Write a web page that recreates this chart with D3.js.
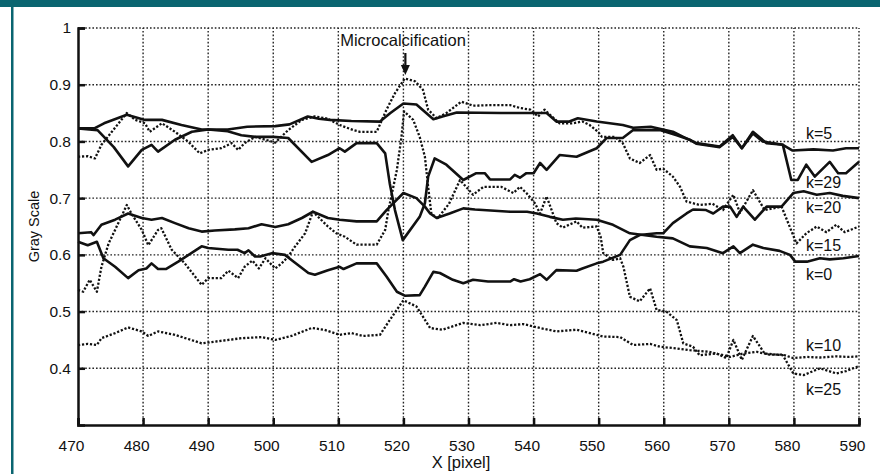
<!DOCTYPE html>
<html>
<head>
<meta charset="utf-8">
<script src="https://cdn.jsdelivr.net/npm/d3@7"></script>
<style>
  body { margin: 0; background: #fff; }
  svg { display: block; }
  text { font-family: "Liberation Sans", Arial, Helvetica, sans-serif; fill: #111; }
</style>
</head>
<body>
<svg id="chart" width="880" height="474"></svg>
<script>
// tick values
const xTicks = [470, 480, 490, 500, 510, 520, 530, 540, 550, 560, 570, 580, 590];
const yTicks = [0.4, 0.5, 0.6, 0.7, 0.8, 0.9, 1];

// profiles: [x pixel, gray]
const k5 = [[470,0.823],[472.5,0.823],[474,0.832],[477.5,0.847],[480.3,0.838],[482.9,0.838],[485.9,0.829],[489,0.821],[493,0.821],[496,0.826],[500.3,0.827],[502.5,0.83],[505.3,0.844],[507,0.84],[508.7,0.838],[512,0.836],[516.4,0.835],[518,0.85],[520,0.867],[522,0.865],[524.6,0.839],[526,0.844],[528.2,0.851],[535,0.85],[542,0.85],[543.5,0.835],[545.5,0.835],[546.8,0.841],[549.7,0.835],[553.7,0.829],[555.3,0.824],[558,0.826],[561.4,0.817],[563,0.808],[565,0.797],[568.6,0.791],[570.6,0.811],[572,0.788],[573.7,0.817],[575.8,0.797],[578.3,0.794],[579.8,0.784],[583,0.786],[586,0.784],[588,0.788],[590,0.788]];
const k29 = [[470,0.823],[473,0.82],[475.5,0.79],[477.7,0.756],[479.8,0.785],[481.3,0.794],[482.3,0.782],[484.9,0.803],[487.5,0.817],[490,0.821],[493,0.818],[495.1,0.811],[497.2,0.808],[500,0.808],[502.3,0.806],[505.9,0.764],[508.4,0.776],[510.2,0.788],[511,0.782],[512.8,0.797],[515.9,0.797],[517.2,0.779],[517.9,0.726],[518.7,0.679],[519.9,0.626],[522.5,0.667],[523.3,0.691],[523.8,0.738],[524.8,0.77],[526.6,0.759],[529.2,0.732],[531.2,0.744],[532.5,0.744],[533.3,0.733],[536.4,0.733],[537.1,0.741],[537.9,0.736],[538.9,0.744],[540,0.744],[541,0.762],[542,0.75],[544,0.776],[546.6,0.773],[549.7,0.788],[551.2,0.806],[553.7,0.806],[555.3,0.82],[559.4,0.82],[562,0.811],[564,0.803],[565,0.796],[568.6,0.79],[570.6,0.808],[572,0.788],[573.7,0.814],[575.2,0.8],[578.3,0.794],[579.6,0.732],[580.6,0.732],[581.9,0.759],[583.2,0.738],[585.5,0.764],[586.8,0.744],[588,0.744],[590,0.764]];
const k20 = [[470,0.623],[471.5,0.617],[472.9,0.623],[473.9,0.594],[475.7,0.579],[477.7,0.559],[479.3,0.573],[480.5,0.576],[481.3,0.585],[482.3,0.575],[483.5,0.575],[485.4,0.588],[489,0.615],[490,0.612],[493.1,0.609],[494.5,0.609],[495.6,0.603],[496.2,0.608],[497.2,0.597],[498,0.597],[499.8,0.603],[501.8,0.6],[502.8,0.591],[505.4,0.568],[506.4,0.565],[508.4,0.573],[510.2,0.579],[510.8,0.575],[512.8,0.585],[515.9,0.585],[517.4,0.562],[519,0.535],[520.2,0.528],[522.5,0.529],[523.3,0.544],[524.6,0.57],[525.6,0.568],[527.6,0.556],[529.2,0.55],[530.7,0.556],[533,0.553],[536.4,0.553],[537,0.557],[538,0.553],[539.4,0.557],[541,0.566],[542,0.556],[543.5,0.573],[546.6,0.572],[547.5,0.576],[549.7,0.585],[550.7,0.588],[553.3,0.6],[554.8,0.626],[556.3,0.635],[558.9,0.638],[559.9,0.638],[561.4,0.656],[563.5,0.673],[564.5,0.68],[566.5,0.679],[567.6,0.673],[569.1,0.685],[570.2,0.685],[571.2,0.667],[572.2,0.685],[574,0.662],[575.8,0.685],[578.1,0.685],[579.9,0.709],[581.5,0.712],[583.5,0.706],[585.5,0.709],[587.5,0.704],[590,0.7]];
const k0 = [[470,0.638],[472,0.64],[472.4,0.635],[473.6,0.653],[475.7,0.662],[477.7,0.673],[479.8,0.665],[481.3,0.662],[482.9,0.665],[484.9,0.656],[487,0.647],[489,0.641],[491,0.643],[494.1,0.645],[496.2,0.647],[498.2,0.654],[500.3,0.649],[502.3,0.654],[504.4,0.665],[506.1,0.676],[508.4,0.665],[510.2,0.662],[512.8,0.659],[515.9,0.659],[517.4,0.679],[520,0.709],[522,0.7],[523.3,0.685],[524.1,0.673],[525.1,0.665],[527.1,0.673],[529.2,0.682],[531,0.68],[536.4,0.676],[539,0.676],[540.5,0.673],[542.5,0.667],[544.5,0.662],[546.5,0.664],[549.7,0.662],[552.2,0.653],[554.8,0.638],[558.9,0.632],[561.4,0.629],[564,0.615],[566.6,0.612],[569.1,0.603],[570.7,0.615],[571.7,0.603],[573.7,0.618],[575.3,0.612],[577.8,0.607],[579.4,0.6],[580.2,0.588],[582,0.588],[584,0.594],[585.5,0.592],[587.6,0.594],[590,0.598]];
const k15 = [[470,0.773],[471.5,0.774],[472.6,0.77],[473.6,0.794],[475.2,0.817],[477.5,0.85],[478.8,0.838],[480.3,0.832],[481,0.817],[482.9,0.832],[484.9,0.817],[486.9,0.8],[488.7,0.779],[490,0.785],[492,0.788],[493.6,0.797],[494.6,0.785],[495.6,0.797],[497.2,0.808],[498.8,0.803],[500.3,0.798],[502.3,0.82],[504.4,0.838],[506.4,0.844],[508.4,0.84],[510.2,0.829],[512.3,0.82],[513.3,0.817],[515.9,0.817],[517.4,0.856],[518.7,0.885],[520.2,0.911],[521.8,0.906],[523,0.891],[523.8,0.856],[525.1,0.841],[526.6,0.85],[528.9,0.87],[530.7,0.863],[533.3,0.864],[536.4,0.864],[537.9,0.859],[539.5,0.856],[540.7,0.844],[541.7,0.856],[542.8,0.844],[544,0.832],[546,0.832],[547.5,0.835],[548.6,0.829],[549.9,0.817],[550.5,0.808],[552.5,0.808],[553.7,0.797],[554.8,0.77],[556.3,0.762],[557.9,0.776],[558.9,0.75],[559.9,0.752],[561.4,0.738],[562.5,0.72],[563.5,0.694],[565.5,0.688],[567.5,0.69],[569.1,0.679],[570.7,0.706],[571.7,0.674],[573.7,0.714],[575.5,0.679],[578.1,0.685],[580.4,0.62],[581.9,0.638],[583.5,0.65],[585,0.64],[586.5,0.653],[587.8,0.64],[590,0.65]];
const k10 = [[470,0.441],[471.5,0.443],[472.9,0.441],[473.6,0.453],[475.7,0.462],[477.7,0.472],[479.8,0.465],[480.8,0.457],[482.3,0.465],[484.9,0.459],[489,0.444],[491,0.447],[495.1,0.453],[498.2,0.455],[500.3,0.45],[502.8,0.457],[505.9,0.471],[507.8,0.468],[510.2,0.459],[512,0.462],[513.8,0.457],[516.4,0.459],[517.9,0.485],[520,0.52],[522,0.509],[523,0.491],[524.1,0.471],[526,0.468],[529.2,0.48],[531.8,0.476],[534.3,0.48],[536.4,0.476],[538.4,0.478],[541,0.471],[543.5,0.465],[546.6,0.468],[549.7,0.459],[550.7,0.456],[553.3,0.455],[555.3,0.441],[557.9,0.443],[559.4,0.438],[562,0.435],[564,0.432],[567,0.429],[570.2,0.42],[572.2,0.426],[574.3,0.429],[576.3,0.424],[578.3,0.424],[579.9,0.418],[582,0.42],[584,0.419],[586.5,0.421],[588.5,0.42],[590,0.421]];
const k25 = [[470,0.538],[470.8,0.535],[471.8,0.556],[472.9,0.535],[473.6,0.579],[474.7,0.62],[475.7,0.644],[477.5,0.688],[478.2,0.673],[479.8,0.644],[480.8,0.617],[482.3,0.644],[482.8,0.647],[484.4,0.609],[486.4,0.585],[489,0.547],[490,0.559],[492,0.559],[493.1,0.572],[494.6,0.559],[495.6,0.579],[496.8,0.59],[497.8,0.576],[498.8,0.594],[500.3,0.576],[501.3,0.585],[502.3,0.597],[503.3,0.614],[504.9,0.638],[506.1,0.676],[508.4,0.65],[509.7,0.638],[511,0.632],[512.8,0.618],[515.9,0.618],[517.2,0.644],[517.7,0.679],[519,0.75],[519.7,0.808],[520.1,0.853],[521.5,0.838],[522.5,0.808],[523.3,0.773],[523.8,0.72],[524.3,0.672],[525.3,0.665],[527,0.69],[528.7,0.732],[530.7,0.706],[532.3,0.72],[535,0.72],[536.9,0.709],[537.9,0.72],[538.9,0.709],[540.2,0.691],[541,0.673],[542,0.703],[543.5,0.656],[544.5,0.648],[546.6,0.659],[547.5,0.648],[549.7,0.65],[550.3,0.632],[550.7,0.603],[552.2,0.591],[553.3,0.594],[553.8,0.579],[554.8,0.526],[556.3,0.518],[557.9,0.541],[558.9,0.503],[560.4,0.5],[562,0.485],[563,0.444],[564.5,0.438],[565.5,0.423],[568.1,0.426],[569.6,0.418],[570.7,0.45],[572,0.415],[573.7,0.457],[575.5,0.426],[578.3,0.423],[579.9,0.391],[581.5,0.388],[584,0.4],[586.5,0.391],[588,0.395],[590,0.404]];

const seriesNames = ["k=5", "k=29", "k=20", "k=15", "k=0", "k=10", "k=25"];
const seriesData = [k5, k29, k20, k15, k0, k10, k25];
const seriesDotted = [false, false, false, true, false, true, true];
// gray value at the baseline of each label
const labelValues = [0.805, 0.718, 0.674, 0.606, 0.556, 0.430, 0.353];

const svg = d3.select("#chart");
const W = 880, H = 474;
const margin = { top: 28, right: 21, bottom: 49, left: 78 };

// teal frame
svg.append("rect").attr("x", 0).attr("y", 0).attr("width", W).attr("height", 7).attr("fill", "#0a6570");
svg.append("rect").attr("x", 11).attr("y", 0).attr("width", 2.5).attr("height", H).attr("fill", "#0a6570");

const x = d3.scaleLinear().domain([470, 590]).range([margin.left, W - margin.right]);
const y = d3.scaleLinear().domain([0.3, 1]).range([H - margin.bottom, margin.top]);

// dotted grid, including the top and right border
const grid = svg.append("g").attr("stroke", "#222").attr("stroke-width", 1.4).attr("stroke-dasharray", "1.6,2");
grid.selectAll(".gx").data(xTicks.slice(1)).join("line")
  .attr("x1", d => x(d)).attr("x2", d => x(d))
  .attr("y1", y(0.3)).attr("y2", y(1));
grid.selectAll(".gy").data(yTicks).join("line")
  .attr("x1", x(470)).attr("x2", x(590))
  .attr("y1", d => y(d)).attr("y2", d => y(d));

// curves
const line = d3.line().x(d => x(d[0])).y(d => y(d[1]));
svg.append("g").selectAll("path")
  .data(seriesData)
  .join("path")
  .attr("d", line)
  .attr("fill", "none")
  .attr("stroke", "#111")
  .attr("stroke-width", (d, i) => seriesDotted[i] ? 2.3 : 2.6)
  .attr("stroke-dasharray", (d, i) => seriesDotted[i] ? "2.2,1.8" : null)
  .attr("stroke-linejoin", "round");

// axes (solid left and bottom with inward ticks)
const xAxis = d3.axisBottom(x).tickValues(xTicks).tickSize(-7).tickPadding(15);
const yAxis = d3.axisLeft(y).tickValues(yTicks).tickSize(-7).tickPadding(7)
  .tickFormat(d => d === 1 ? "1" : d3.format(".1f")(d));

const gx = svg.append("g").attr("transform", `translate(0,${y(0.3)})`).call(xAxis);
const gy = svg.append("g").attr("transform", `translate(${x(470)},0)`).call(yAxis);
[gx, gy].forEach(g => {
  g.select(".domain").attr("stroke", "#111").attr("stroke-width", 2.5);
  g.selectAll(".tick line").attr("stroke", "#111").attr("stroke-width", 2.5);
  g.selectAll(".tick text").attr("font-size", "15.5px").attr("fill", "#111")
    .attr("font-family", "Liberation Sans, Arial, sans-serif");
});
gx.selectAll(".tick text").attr("dx", "-7");

// axis titles
svg.append("text").attr("x", 461).attr("y", 468).attr("text-anchor", "middle")
  .attr("font-size", "16.5px").text("X [pixel]");
svg.append("text").attr("transform", `translate(39,${y(0.65)}) rotate(-90)`)
  .attr("text-anchor", "middle").attr("font-size", "14.5px").text("Gray Scale");

// series labels
svg.append("g").selectAll("text")
  .data(seriesNames)
  .join("text")
  .attr("x", 806)
  .attr("y", (d, i) => y(labelValues[i]))
  .attr("font-size", "16px")
  .text(d => d);

// annotation
svg.append("text").attr("x", 403).attr("y", 45.5).attr("text-anchor", "middle")
  .attr("font-size", "16.5px").text("Microcalcification");
svg.append("line").attr("x1", x(520.3)).attr("x2", x(520.3)).attr("y1", 53).attr("y2", 68)
  .attr("stroke", "#111").attr("stroke-width", 2.2);
svg.append("path")
  .attr("d", `M${x(520.3) - 4.5},65 L${x(520.3) + 4.5},65 L${x(520.3)},75 Z`)
  .attr("fill", "#111");
</script>
</body>
</html>
